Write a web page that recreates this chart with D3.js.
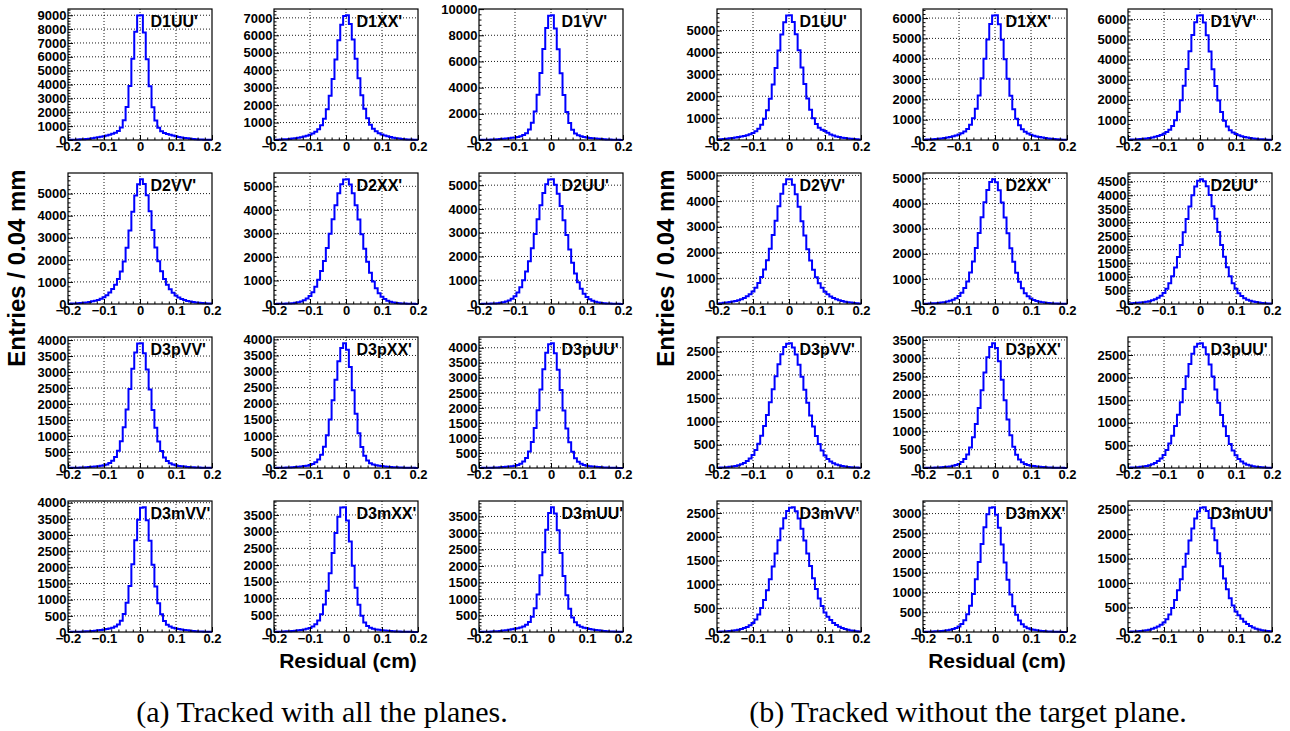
<!DOCTYPE html>
<html><head><meta charset="utf-8">
<script src="https://cdn.jsdelivr.net/npm/d3@7"></script>
<style>
body{margin:0;background:#fff}
svg{display:block}
</style>
</head><body>
<svg id="c" width="1290" height="731"></svg>
<script>
// ---------------- data ----------------
const xDomain = [-0.2, 0.2];
const xTickValues = [-0.2, -0.1, 0, 0.1, 0.2];
const panelNames = [["D1UU'","D1XX'","D1VV'"],["D2VV'","D2XX'","D2UU'"],["D3pVV'","D3pXX'","D3pUU'"],["D3mVV'","D3mXX'","D3mUU'"]];
const yStepA = [[1000,1000,2000],[1000,1000,1000],[500,500,500],[500,500,500]];
const yStepB = [[1000,1000,1000],[1000,1000,500],[500,500,500],[500,500,500]];
const yAxisTitle = "Entries / 0.04 mm";
const xAxisTitle = "Residual (cm)";
const captions = ["(a) Tracked with all the planes.", "(b) Tracked without the target plane."];

// (a) tracked with all the planes — counts per bin, left to right
const a_D1UU = [13,18,25,33,46,58,77,98,125,156,192,232,278,330,384,445,520,650,910,1420,2380,3900,5860,7800,8980,
 9000,7760,5830,3870,2360,1400,890,640,505,430,372,318,268,224,186,150,120,95,74,57,44,32,23,17,12];
const a_D1XX = [14,19,27,36,50,64,84,106,128,160,198,240,296,370,470,612,850,1215,1760,2530,3500,4620,5720,6610,7110,
 7150,6650,5760,4650,3540,2560,1790,1240,880,640,500,392,318,262,215,170,136,106,82,62,47,34,25,18,13];
const a_D1VV = [10,13,18,25,33,42,55,70,90,112,136,166,198,236,292,375,520,800,1310,2170,3460,5120,6960,8560,9500,
 9530,8520,6930,5090,3430,2140,1290,780,505,365,285,228,192,160,133,108,86,68,52,40,31,23,16,12,9];
const a_D2VV = [14,20,25,34,45,57,73,96,119,147,186,237,305,396,520,678,876,1130,1469,1921,2543,3334,4181,4916,5424,
 5650,5440,4930,4200,3350,2560,1935,1480,1135,870,670,510,385,292,225,176,139,112,90,70,54,42,32,24,18];
const a_D2XX = [5,7,10,14,19,26,37,52,76,110,160,235,345,500,730,1030,1400,1830,2380,2980,3600,4200,4710,5090,5290,
 5300,5080,4700,4190,3590,2960,2350,1800,1330,960,670,455,310,210,142,96,66,46,32,23,17,12,9,6,4];
const a_D2UU = [5,7,9,13,18,25,35,50,72,104,150,222,330,480,705,1000,1370,1800,2350,2950,3570,4160,4670,5040,5240,
 5250,5020,4640,4120,3520,2900,2290,1740,1280,920,640,435,298,202,138,94,64,45,31,22,16,11,8,6,4];
const a_D3pVV = [4,5,7,10,13,17,22,28,36,45,56,68,88,113,154,224,340,540,840,1270,1830,2470,3100,3610,3890,
 3900,3590,3080,2450,1810,1255,825,528,330,216,148,108,84,66,54,44,35,27,21,16,12,9,7,5,4];
const a_D3pXX = [4,6,8,11,15,19,25,31,40,49,60,72,96,127,178,268,415,660,1020,1510,2107,2747,3321,3733,3880,
 3680,3140,2420,1690,1080,650,380,233,151,111,89,72,60,50,41,33,26,21,16,12,9,7,5,4,3];
const a_D3pUU = [3,5,6,9,12,15,20,25,32,40,49,60,77,103,144,215,334,548,866,1330,1925,2610,3283,3830,4120,
 4150,3815,3268,2597,1913,1318,855,539,327,210,140,100,77,58,48,39,31,25,19,15,11,8,6,4,3];
const a_D3mVV = [3,4,6,8,11,15,20,26,33,41,52,64,78,92,110,135,170,232,348,560,905,1425,2095,2835,3470,
 3845,3860,3460,2820,2080,1410,890,550,342,228,168,134,109,91,77,63,51,41,32,25,19,14,10,7,5];
const a_D3mXX = [6,8,11,15,19,25,32,40,50,62,75,95,121,162,229,342,532,820,1233,1756,2365,2963,3448,3720,3730,
 3335,2707,1982,1324,816,485,286,177,124,96,75,64,53,44,36,29,23,18,14,11,8,6,4,3,2];
const a_D3mUU = [4,6,8,11,15,20,26,33,42,54,66,80,96,114,138,170,218,305,460,720,1135,1720,2415,3095,3605,
 3780,3590,3080,2390,1695,1112,702,442,292,208,162,132,110,92,76,62,50,40,31,24,18,14,10,7,5];

// (b) tracked without the target plane
const b_D1UU = [30,38,48,60,75,92,112,132,158,186,218,262,320,395,510,700,975,1360,1880,2540,3290,4085,4815,5385,5690,
 5700,5395,4830,4100,3310,2560,1900,1380,995,730,560,470,410,330,250,200,165,135,108,86,68,52,40,30,22];
const b_D1XX = [14,19,26,35,46,60,78,98,122,150,185,222,270,335,420,545,750,1065,1535,2195,3040,4000,4945,5710,6130,
 6140,5700,4930,3980,3020,2180,1515,1045,730,525,400,315,255,210,176,145,118,95,76,58,44,33,24,17,12];
const b_D1VV = [14,19,26,35,46,60,78,100,126,160,200,252,315,400,510,700,980,1400,1975,2700,3540,4420,5230,5860,6200,
 6210,5850,5220,4405,3520,2685,1960,1388,962,668,480,370,300,240,190,150,120,95,74,57,43,32,24,17,12];
const b_D2VV = [24,34,44,58,73,93,117,146,185,234,297,380,487,633,818,1047,1339,1705,2143,2679,3239,3799,4286,4651,4846,
 4850,4640,4270,3780,3220,2660,2130,1695,1330,1040,810,628,480,375,292,230,182,143,114,90,71,56,43,33,24];
const b_D2XX = [10,14,19,25,33,43,56,72,96,126,168,225,318,445,640,895,1250,1690,2230,2830,3460,4050,4540,4860,4970,
 4850,4530,4040,3450,2820,2220,1680,1240,885,625,430,310,220,163,121,91,67,52,40,30,22,16,12,8,6];
const b_D2UU = [22,28,35,44,55,68,84,105,135,175,228,300,405,560,760,1020,1345,1730,2170,2640,3125,3590,4000,4320,4530,
 4590,4520,4330,4010,3600,3135,2650,2175,1735,1350,1025,762,560,400,290,215,160,120,92,70,53,40,30,22,16];
const b_D3pVV = [7,9,13,18,25,34,45,60,80,108,150,205,280,385,520,695,900,1140,1410,1690,1970,2230,2445,2600,2670,
 2680,2590,2440,2220,1960,1680,1400,1130,890,685,515,375,270,195,140,102,76,57,43,32,24,17,12,9,6];
const b_D3pXX = [4,5,7,10,13,17,22,28,35,43,60,80,110,162,243,372,563,839,1200,1640,2128,2612,3025,3308,3410,
 3280,2920,2414,1852,1326,897,580,365,235,157,112,84,63,53,43,35,28,22,17,13,10,7,5,4,3];
const b_D3pUU = [7,9,13,18,25,35,47,63,84,112,155,212,290,398,540,715,930,1180,1455,1745,2030,2300,2525,2680,2750,
 2760,2670,2515,2290,2025,1735,1445,1170,922,706,532,388,280,200,142,102,74,55,40,30,22,16,11,8,6];
const b_D3mVV = [6,8,11,15,20,27,36,48,63,82,105,140,190,265,368,505,670,875,1110,1375,1650,1925,2175,2390,2540,
 2610,2620,2535,2385,2170,1920,1650,1385,1130,905,705,545,410,320,250,190,145,110,82,62,46,34,25,18,13];
const b_D3mXX = [5,7,9,12,16,21,27,34,43,57,75,100,140,200,300,448,665,962,1338,1770,2228,2650,2980,3150,3160,
 2970,2640,2215,1760,1325,950,655,440,294,197,135,97,72,55,42,33,26,20,15,12,9,6,5,3,2];
const b_D3mUU = [6,8,11,15,20,27,36,48,64,85,112,148,192,262,360,492,652,852,1080,1335,1600,1868,2115,2320,2465,
 2540,2550,2475,2330,2120,1875,1610,1345,1095,875,690,540,420,340,272,212,162,122,92,68,50,37,27,19,14];

const countsA = [[a_D1UU,a_D1XX,a_D1VV],[a_D2VV,a_D2XX,a_D2UU],[a_D3pVV,a_D3pXX,a_D3pUU],[a_D3mVV,a_D3mXX,a_D3mUU]];
const countsB = [[b_D1UU,b_D1XX,b_D1VV],[b_D2VV,b_D2XX,b_D2UU],[b_D3pVV,b_D3pXX,b_D3pUU],[b_D3mVV,b_D3mXX,b_D3mUU]];

// ---------------- layout ----------------
const svg = d3.select("#c");
const colX = [68, 274, 479];
const rowY = [9, 173, 337, 501];
const FW = 144, FH = 131;
const halfShift = 649;
const tickFont = "'Liberation Sans', Arial, Helvetica, sans-serif";

function drawPanel(x0, y0, counts, name, step) {
  const g = svg.append("g");
  const n = counts.length;
  const bw = (xDomain[1] - xDomain[0]) / n;
  const ymax = 1.05 * d3.max(counts);
  const x = d3.scaleLinear().domain(xDomain).range([x0, x0 + FW]);
  const y = d3.scaleLinear().domain([0, ymax]).range([y0 + FH, y0]);

  const yMajor = d3.range(0, ymax + 1e-6, step);
  const yMinor = d3.range(0, ymax, step / 5).filter(v => Math.abs(v / step - Math.round(v / step)) > 1e-6);
  const xMinor = d3.range(-0.2, 0.2001, 0.02).filter(v => Math.abs(v * 10 - Math.round(v * 10)) > 1e-6);

  // grid
  g.append("g").selectAll("line").data(xTickValues.filter(v => v > xDomain[0] + 1e-9 && v < xDomain[1] - 1e-9))
    .join("line").attr("x1", d => x(d)).attr("x2", d => x(d)).attr("y1", y0).attr("y2", y0 + FH)
    .attr("stroke", "#000").attr("stroke-width", 0.9).attr("stroke-dasharray", "1,2");
  g.append("g").selectAll("line").data(yMajor.filter(v => v > 0 && y(v) > y0 + 0.5))
    .join("line").attr("x1", x0).attr("x2", x0 + FW).attr("y1", d => y(d)).attr("y2", d => y(d))
    .attr("stroke", "#000").attr("stroke-width", 0.9).attr("stroke-dasharray", "1,2");

  // histogram
  const pts = counts.map((c, i) => [xDomain[0] + i * bw, c]);
  pts.push([xDomain[1], counts[n - 1]]);
  const line = d3.line().x(d => x(d[0])).y(d => y(d[1])).curve(d3.curveStepAfter);
  g.append("path").attr("d", line(pts)).attr("fill", "none")
    .attr("stroke", "#0000ff").attr("stroke-width", 2).attr("stroke-linejoin", "miter");

  // frame
  g.append("rect").attr("x", x0).attr("y", y0).attr("width", FW).attr("height", FH)
    .attr("fill", "none").attr("stroke", "#000").attr("stroke-width", 1.2);

  // x axis
  const xa = g.append("g").attr("transform", `translate(0,${y0 + FH})`)
    .call(d3.axisBottom(x).tickValues(xTickValues).tickSize(-5).tickPadding(1.5)
      .tickFormat(d => d === 0 ? "0" : d3.format(".1f")(d)));
  g.append("g").attr("transform", `translate(0,${y0 + FH})`)
    .call(d3.axisBottom(x).tickValues(xMinor).tickSize(-2.5).tickFormat(""))
    .call(s => s.select(".domain").remove());
  // y axis
  const ya = g.append("g").attr("transform", `translate(${x0},0)`)
    .call(d3.axisLeft(y).tickValues(yMajor).tickSize(-5).tickPadding(1.5).tickFormat(d3.format("d")));
  g.append("g").attr("transform", `translate(${x0},0)`)
    .call(d3.axisLeft(y).tickValues(yMinor).tickSize(-2.5).tickFormat(""))
    .call(s => s.select(".domain").remove());

  [xa, ya].forEach(a => {
    a.select(".domain").remove();
    a.selectAll("text").attr("font-family", tickFont).attr("font-weight", "bold")
      .attr("font-size", 13).attr("fill", "#000");
  });
  g.selectAll(".tick line").attr("stroke", "#000");

  // panel label
  g.append("text").attr("x", x0 + 82.5).attr("y", y0 + 18).text(name)
    .attr("font-family", tickFont).attr("font-weight", "bold").attr("font-size", 16).attr("fill", "#000");
}

[countsA, countsB].forEach((grid, h) => {
  const steps = h === 0 ? yStepA : yStepB;
  grid.forEach((row, r) => row.forEach((counts, c) => {
    drawPanel(colX[c] + h * halfShift, rowY[r], counts, panelNames[r][c], steps[r][c]);
  }));
  // axis titles
  svg.append("text").attr("transform", `translate(${25 + h * halfShift},268) rotate(-90)`)
    .attr("text-anchor", "middle").text(yAxisTitle)
    .attr("font-family", tickFont).attr("font-weight", "bold").attr("font-size", 24).attr("fill", "#000");
  svg.append("text").attr("x", 348 + h * halfShift).attr("y", 668).attr("text-anchor", "middle").text(xAxisTitle)
    .attr("font-family", tickFont).attr("font-weight", "bold").attr("font-size", 21).attr("fill", "#000");
  svg.append("text").attr("x", 322 + h * 646).attr("y", 722).attr("text-anchor", "middle").text(captions[h])
    .attr("font-family", "'Liberation Serif', 'Times New Roman', serif").attr("font-size", 30).attr("fill", "#000");
});
</script>
</body></html>
